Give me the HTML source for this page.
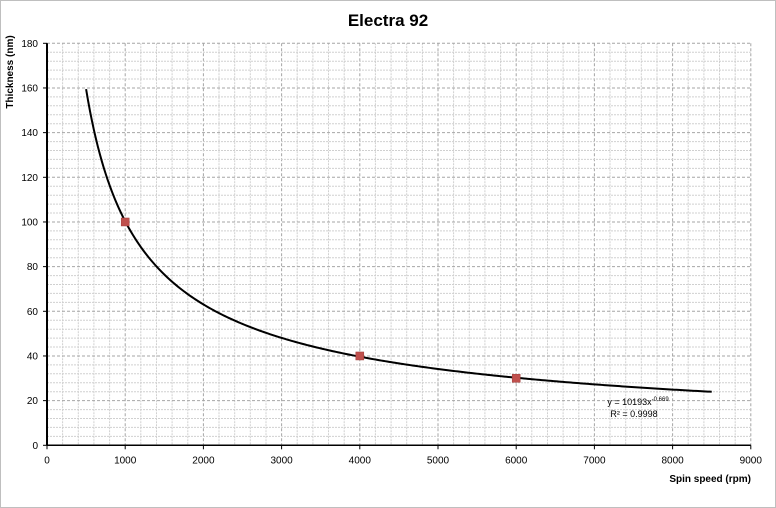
<!DOCTYPE html>
<html><head><meta charset="utf-8"><style>
body{margin:0;background:#fff;}
svg{display:block;font-family:"Liberation Sans",Arial,sans-serif;}
</style></head><body>
<svg id="s" width="776" height="508" viewBox="0 0 776 508">
<rect x="0.5" y="0.5" width="775" height="507" fill="#fff" stroke="#bfbfbf"/>
<g id="grid"></g>
<text x="388" y="26" text-anchor="middle" font-size="17" font-weight="bold">Electra 92</text>
<text transform="translate(13,72) rotate(-90)" text-anchor="middle" font-size="10" font-weight="bold">Thickness (nm)</text>
<text x="751" y="482" text-anchor="end" font-size="10" font-weight="bold">Spin speed (rpm)</text>
<text x="638" y="405" text-anchor="middle" font-size="9">y = 10193x<tspan dy="-4" font-size="6">-0.669</tspan></text>
<text x="634" y="417" text-anchor="middle" font-size="9">R² = 0.9998</text>
</svg>
<script>
var X0=47,XS=703.8/9000,Y0=445.3,YS=402/180;
function px(x){return X0+x*XS}function py(y){return Y0-y*YS}
var g=document.getElementById('grid'),h='';
for(var x=200;x<=9000;x+=200){var a=px(x).toFixed(1),maj=x%1000==0;
h+='<line x1="'+a+'" x2="'+a+'" y1="'+py(180)+'" y2="'+Y0+'" stroke="'+(maj?'#a6a6a6':'#d0d0d0')+'" stroke-dasharray="'+(maj?'3,2':'2,1')+'" stroke-width="1"/>';}
for(var y=4;y<=180;y+=4){var b=py(y).toFixed(1),maj=y%20==0;
h+='<line x1="'+X0+'" x2="'+px(9000)+'" y1="'+b+'" y2="'+b+'" stroke="'+(maj?'#a6a6a6':'#d0d0d0')+'" stroke-dasharray="'+(maj?'3,2':'2,1')+'" stroke-width="1"/>';}
h+='<line x1="'+X0+'" x2="'+X0+'" y1="'+py(180)+'" y2="'+Y0+'" stroke="#000" stroke-width="2"/>';
h+='<line x1="'+X0+'" x2="'+px(9000)+'" y1="'+Y0+'" y2="'+Y0+'" stroke="#000" stroke-width="1.5"/>';
for(var x=0;x<=9000;x+=1000){h+='<line x1="'+px(x)+'" x2="'+px(x)+'" y1="'+Y0+'" y2="'+(Y0+4)+'" stroke="#000"/>';
h+='<text x="'+px(x)+'" y="'+(Y0+18)+'" text-anchor="middle" font-size="10">'+x+'</text>';}
for(var y=0;y<=180;y+=20){h+='<line x1="'+(X0-4)+'" x2="'+X0+'" y1="'+py(y)+'" y2="'+py(y)+'" stroke="#000"/>';
h+='<text x="'+(X0-9)+'" y="'+(py(y)+3.5)+'" text-anchor="end" font-size="10">'+y+'</text>';}
var d='';for(var x=500;x<=8500;x+=25){var v=10193*Math.pow(x,-0.669);d+=(x==500?'M':'L')+px(x).toFixed(2)+','+py(v).toFixed(2);}
h+='<path d="'+d+'" fill="none" stroke="#000" stroke-width="2"/>';
[[1000,100],[4000,40],[6000,30]].forEach(function(p){h+='<rect x="'+(px(p[0])-4)+'" y="'+(py(p[1])-4)+'" width="8" height="8" fill="#c0504d" stroke="#a03c3a" stroke-width="0.5"/>';});
g.innerHTML=h;
</script>
</body></html>
